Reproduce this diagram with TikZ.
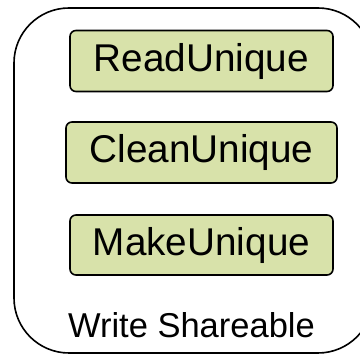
\documentclass[tikz,border=0pt]{standalone}
\usepackage{fontspec}
\setmainfont{Liberation Sans}
\definecolor{statefill}{RGB}{216,226,170}
\begin{document}
\begin{tikzpicture}[x=1pt,y=-1pt,
  statebox/.style={draw=black, line width=1.6pt, fill=statefill,
    rounded corners=6pt, inner sep=0pt, minimum height=61pt,
    font=\fontsize{38.7}{40}\selectfont},
  groupbox/.style={draw=black, line width=1.6pt, rounded corners=55pt}]
  \useasboundingbox (0,0) rectangle (360,355);
  \begin{scope}
    \clip (0,0) rectangle (360,355);
    \draw[groupbox] (14,8) rectangle (373,353);
  \end{scope}
  \node[statebox, minimum width=263pt] (read)  at (201.5,61)  {ReadUnique};
  \node[statebox, minimum width=271pt] (clean) at (201.5,152.5) {CleanUnique};
  \node[statebox, minimum width=263pt, minimum height=60pt] (make) at (201.5,245) {MakeUnique};
  \node[inner sep=0pt, font=\fontsize{34.5}{36}\selectfont] (label) at (191.5,325) {Write Shareable};
\end{tikzpicture}
\end{document}
